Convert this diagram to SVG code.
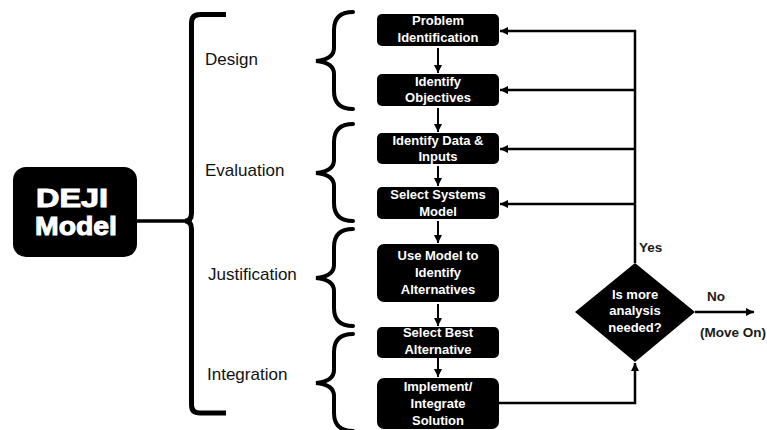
<svg xmlns="http://www.w3.org/2000/svg" width="767" height="430" viewBox="0 0 767 430">
<style>
.box{fill:#000}
.bt{font-family:"Liberation Sans",Arial,sans-serif;font-weight:bold;font-size:13px;fill:#fff;text-anchor:middle}
.lbl{font-family:"Liberation Sans",Arial,sans-serif;font-size:17px;fill:#111}
.sm{font-family:"Liberation Sans",Arial,sans-serif;font-weight:bold;font-size:13.5px;fill:#1a1a1a}
.ln{fill:none;stroke:#000;stroke-width:2.5}
.dn{fill:none;stroke:#000;stroke-width:2}
.brace{fill:none;stroke:#000;stroke-width:4;stroke-linecap:round}
</style>
<defs>
<marker id="ah" markerUnits="userSpaceOnUse" markerWidth="8" markerHeight="8" refX="8" refY="4" orient="auto">
<path d="M0,0 L8,4 L0,8 z" fill="#000"/>
</marker>
<path id="br" d="M 37 0 C 24 0, 18 6, 18 18 L 18 36 C 18 44, 12 48, 0 49 C 12 50, 18 54, 18 62 L 18 79 C 18 91, 24 97, 37 97"/>
</defs>
<rect width="767" height="430" fill="#fff"/>

<g id="deji">
<rect x="13" y="167" width="124" height="90" rx="13" class="box"/>
<text x="36" y="207" textLength="72" lengthAdjust="spacingAndGlyphs" style="font-family:'Liberation Sans',Arial,sans-serif;font-weight:bold;font-size:26px;fill:#fff;stroke:#fff;stroke-width:1">DEJI</text>
<text x="35" y="235" textLength="82" lengthAdjust="spacingAndGlyphs" style="font-family:'Liberation Sans',Arial,sans-serif;font-weight:bold;font-size:26px;fill:#fff;stroke:#fff;stroke-width:1">Model</text>
</g>

<g id="bracket">
<path d="M 226 14.5 H 200 Q 191.5 14.5 191.5 23 V 213 Q 191.5 221 185 221 Q 191.5 221 191.5 229 V 405 Q 191.5 413 200 413 H 226" fill="none" stroke="#000" stroke-width="5"/>
<line x1="137" y1="221" x2="187" y2="221" stroke="#000" stroke-width="3.5"/>
</g>

<g id="labels">
<text x="205" y="65" class="lbl">Design</text>
<text x="205" y="176" class="lbl">Evaluation</text>
<text x="208" y="280" class="lbl">Justification</text>
<text x="207" y="380" class="lbl">Integration</text>
</g>

<g id="braces" class="brace">
<use href="#br" transform="translate(316,12)"/>
<use href="#br" transform="translate(316,124)"/>
<use href="#br" transform="translate(316,229)"/>
<use href="#br" transform="translate(316,334)"/>
</g>

<g id="n1"><rect x="377" y="14" width="122" height="32" rx="5" class="box"/>
<text x="438" y="25" class="bt">Problem</text><text x="438" y="42" class="bt">Identification</text></g>
<g id="n2"><rect x="377" y="74" width="122" height="32" rx="5" class="box"/>
<text x="438" y="86" class="bt">Identify</text><text x="438" y="102" class="bt">Objectives</text></g>
<g id="n3"><rect x="377" y="133" width="122" height="31" rx="5" class="box"/>
<text x="438" y="145" class="bt">Identify Data &amp;</text><text x="438" y="161" class="bt">Inputs</text></g>
<g id="n4"><rect x="377" y="187" width="122" height="32" rx="5" class="box"/>
<text x="438" y="199" class="bt">Select Systems</text><text x="438" y="216" class="bt">Model</text></g>
<g id="n5"><rect x="377" y="244" width="122" height="58" rx="7" class="box"/>
<text x="438" y="260" class="bt">Use Model to</text><text x="438" y="277" class="bt">Identify</text><text x="438" y="294" class="bt">Alternatives</text></g>
<g id="n6"><rect x="377" y="327" width="122" height="31" rx="5" class="box"/>
<text x="438" y="337" class="bt">Select Best</text><text x="438" y="354" class="bt">Alternative</text></g>
<g id="n7"><rect x="377" y="378" width="122" height="51" rx="7" class="box"/>
<text x="438" y="391" class="bt">Implement/</text><text x="438" y="408" class="bt">Integrate</text><text x="438" y="425" class="bt">Solution</text></g>

<g id="decision">
<path d="M 635 263 L 695 312 L 635 362 L 575 312 Z" fill="#000"/>
<text x="635" y="299" class="bt">Is more</text>
<text x="635" y="315" class="bt">analysis</text>
<text x="635" y="332" class="bt">needed?</text>
</g>

<g id="connectors">
<path class="ln" d="M 635 263 V 31 H 500" marker-end="url(#ah)"/>
<path class="ln" d="M 635 90 H 500" marker-end="url(#ah)"/>
<path class="ln" d="M 635 149 H 500" marker-end="url(#ah)"/>
<path class="ln" d="M 635 204 H 500" marker-end="url(#ah)"/>
<path class="ln" d="M 499 403 H 635 V 363" marker-end="url(#ah)"/>
<path class="ln" d="M 695 312 H 754" marker-end="url(#ah)"/>
<path class="dn" d="M 438 48 V 73" marker-end="url(#ah)"/>
<path class="dn" d="M 438 108 V 132" marker-end="url(#ah)"/>
<path class="dn" d="M 438 166 V 186" marker-end="url(#ah)"/>
<path class="dn" d="M 438 221 V 243" marker-end="url(#ah)"/>
<path class="dn" d="M 438 304 V 326" marker-end="url(#ah)"/>
<path class="dn" d="M 438 358 V 377" marker-end="url(#ah)"/>
<text x="639" y="252" class="sm">Yes</text>
<text x="707" y="301" class="sm">No</text>
<text x="700" y="337" class="sm">(Move On)</text>
</g>
</svg>
